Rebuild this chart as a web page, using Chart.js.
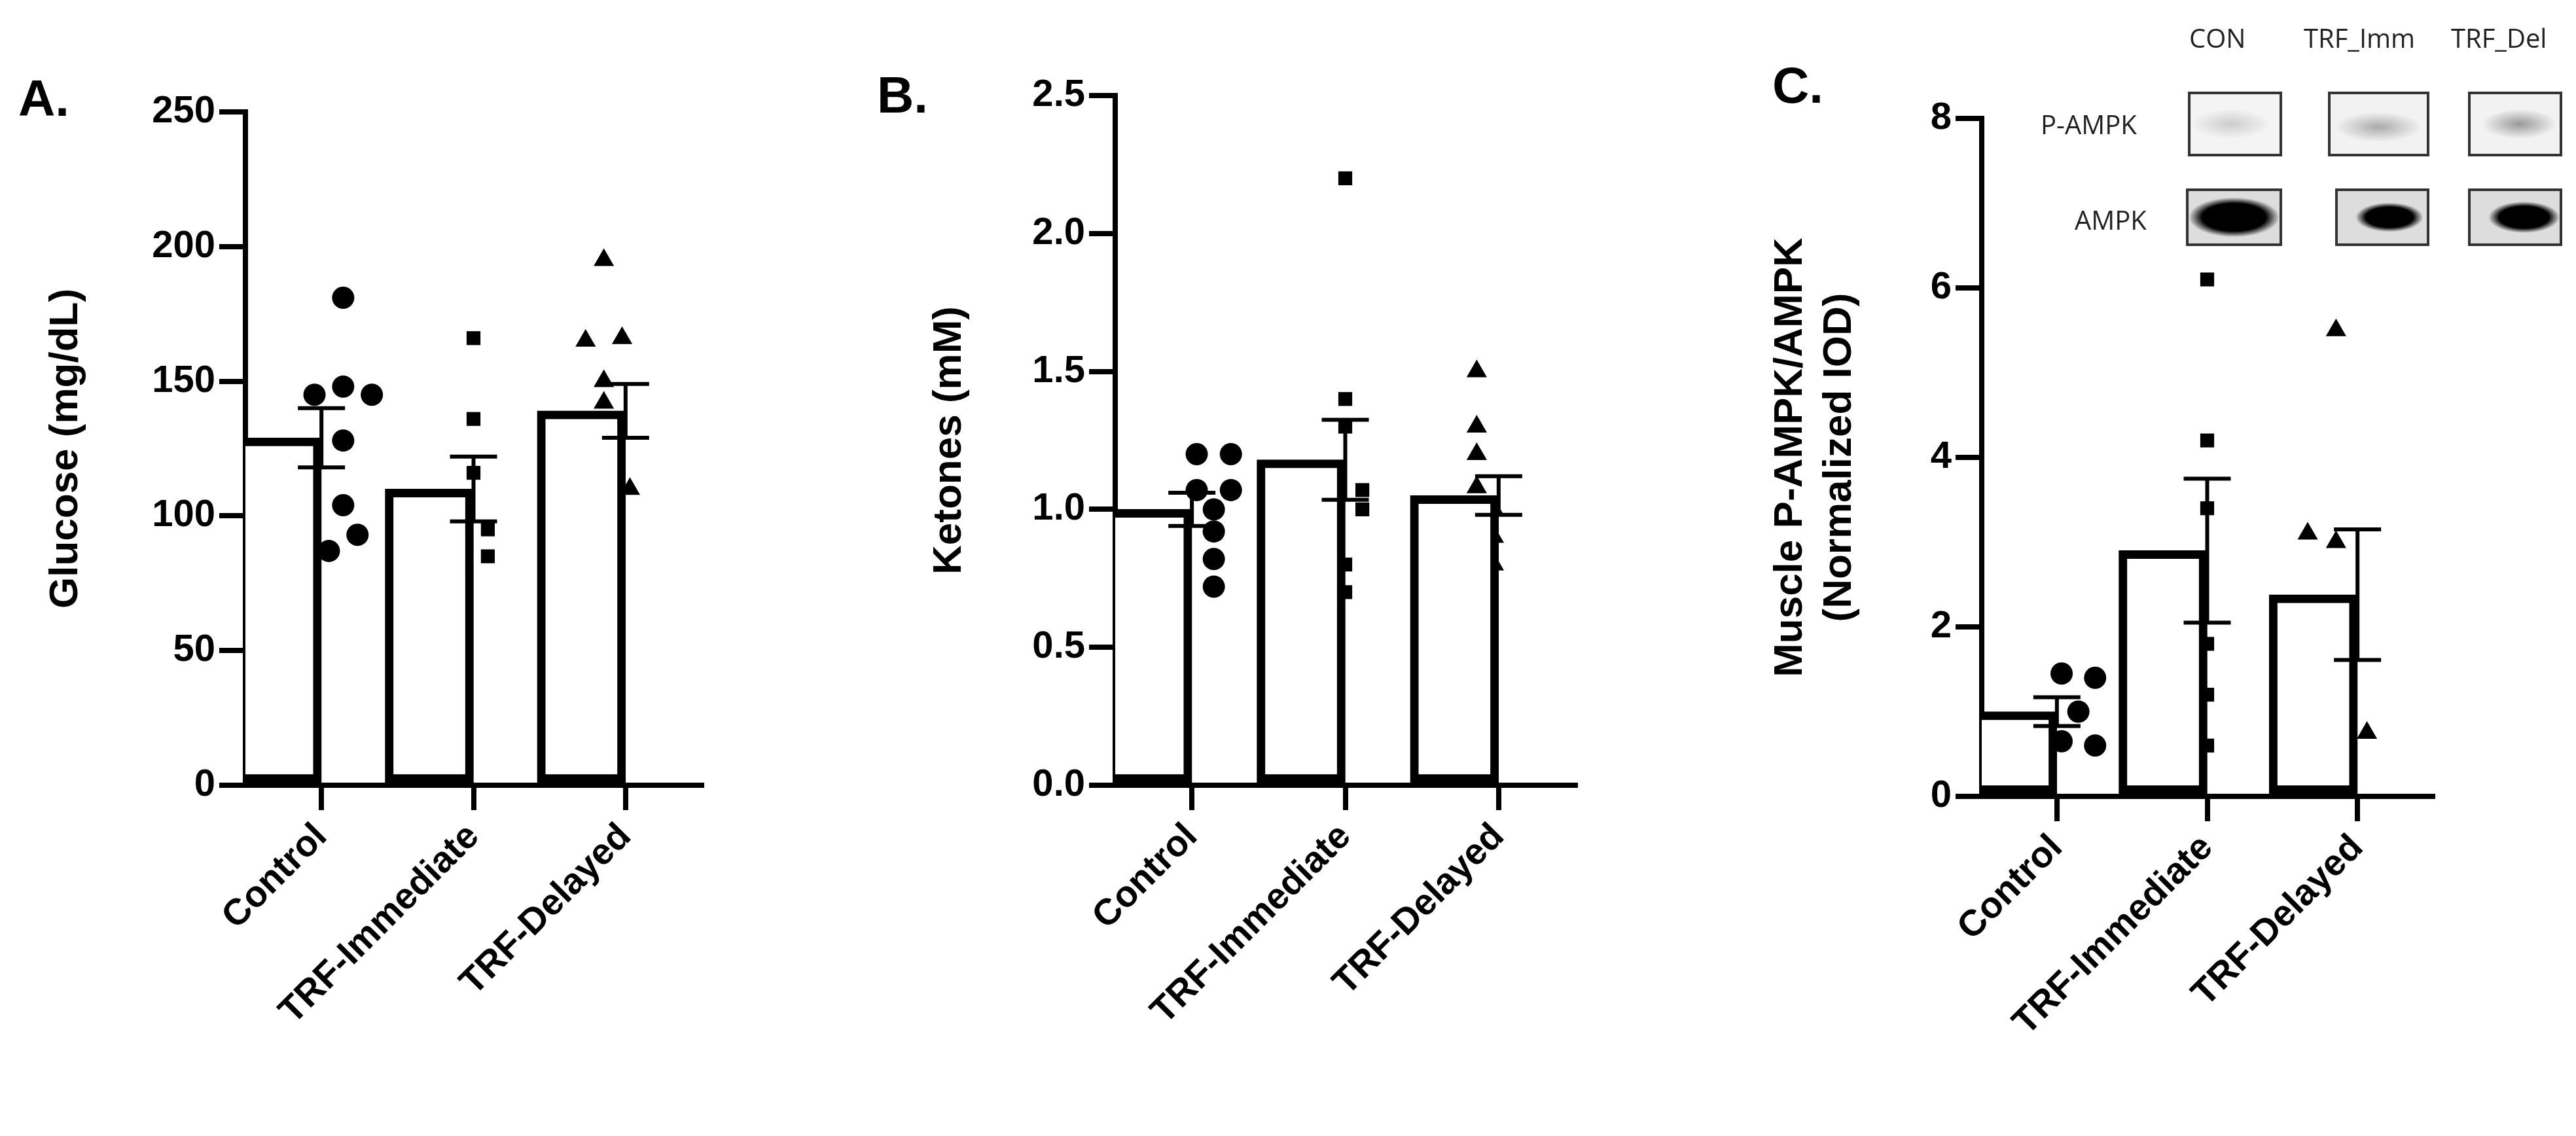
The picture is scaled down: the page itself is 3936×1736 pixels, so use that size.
<!DOCTYPE html>
<html>
<head>
<meta charset="utf-8">
<script src="https://cdn.jsdelivr.net/npm/chart.js@4.4.0/dist/chart.umd.min.js"></script>
<style>
body { margin: 0; background: #fff; width: 3936px; height: 1736px; position: relative; overflow: hidden; font-family: "Liberation Sans", Arial, sans-serif; }
.panel { position: absolute; top: 0; height: 1736px; }
.letter { position: absolute; font-weight: bold; font-size: 78px; }
.blot { position: absolute; border: 4px solid #333; background: #f4f4f4; box-sizing: border-box; }
.lbl { position: absolute; font-family: "Open Sans", sans-serif; font-size: 40px; color: #222; }
</style>
</head>
<body>
<div class="panel" style="left:0;width:1090px"><canvas id="chartA"></canvas></div>
<div class="panel" style="left:1300px;width:1125px"><canvas id="chartB"></canvas></div>
<div class="panel" style="left:2600px;width:1135px"><canvas id="chartC"></canvas></div>
<div class="letter" style="left:28px;top:105px">A.</div>
<div class="letter" style="left:1340px;top:100px">B.</div>
<div class="letter" style="left:2708px;top:85px">C.</div>

<div class="lbl" style="left:3345px;top:30px">CON</div>
<div class="lbl" style="left:3520px;top:30px">TRF_Imm</div>
<div class="lbl" style="left:3745px;top:30px">TRF_Del</div>
<div class="lbl" style="left:3118px;top:162px">P-AMPK</div>
<div class="lbl" style="left:3170px;top:308px">AMPK</div>
<div class="blot" style="left:3343px;top:140px;width:144px;height:99px;background:radial-gradient(ellipse 45% 25% at 45% 50%, #ccc, #f4f4f4)"></div>
<div class="blot" style="left:3557px;top:140px;width:155px;height:99px;background:radial-gradient(ellipse 45% 25% at 50% 55%, #aaa, #f2f2f2)"></div>
<div class="blot" style="left:3771px;top:140px;width:144px;height:99px;background:radial-gradient(ellipse 42% 25% at 55% 50%, #999, #f2f2f2)"></div>
<div class="blot" style="left:3340px;top:288px;width:147px;height:88px;background:radial-gradient(ellipse 50% 38% at 50% 50%, #000 70%, #ddd)"></div>
<div class="blot" style="left:3568px;top:288px;width:144px;height:88px;background:radial-gradient(ellipse 38% 28% at 58% 50%, #000 70%, #ddd)"></div>
<div class="blot" style="left:3771px;top:288px;width:144px;height:88px;background:radial-gradient(ellipse 40% 30% at 60% 50%, #000 70%, #ddd)"></div>

<script>
const groups = ['Control', 'TRF-Immediate', 'TRF-Delayed'];
const markers = ['circle', 'rect', 'triangle'];

// Glucose (mg/dL)
const glucoseMean = [129, 110, 139];
const glucoseSem = [11, 12, 10];
const glucoseControl = [181, 145, 148, 145, 128, 104, 93, 87];
const glucoseImm = [166, 136, 116, 95, 95, 80, 85];
const glucoseDel = [195, 165, 166, 150, 142, 127, 110, 104, 110];

// Ketones (mM)
const ketoneMean = [1.0, 1.18, 1.05];
const ketoneSem = [0.06, 0.145, 0.07];
const ketoneControl = [1.2, 1.2, 1.07, 1.07, 1.0, 0.92, 0.82, 0.72];
const ketoneImm = [2.2, 1.4, 1.3, 1.07, 1.07, 1.0, 1.0, 0.8, 0.7];
const ketoneDel = [1.5, 1.3, 1.2, 1.08, 1.0, 1.0, 0.9, 0.9, 0.8, 0.8];

// Muscle P-AMPK/AMPK
const ampkMean = [1.0, 2.9, 2.38];
const ampkSem = [0.17, 0.85, 0.77];
const ampkControl = [1.45, 1.4, 1.0, 0.6, 0.65];
const ampkImm = [6.1, 4.2, 3.4, 1.8, 1.2, 0.6];
const ampkDel = [5.5, 3.1, 3.0, 1.0, 0.75, 0.75];

// horizontal jitter of the dots (fraction of a category width)
const jitterA = [[0, -0.22, 0, 0.22, 0, 0, 0.11, -0.11], [0, 0, 0, -0.11, 0.11, -0.11, 0.11], [0, -0.14, 0.14, 0, 0, 0, -0.14, -0.26, 0.2]];
const jitterB = [[-0.13, 0.13, -0.13, 0.13, 0, 0, 0, 0], [0, 0, 0, -0.13, 0.13, -0.13, 0.13, 0, 0], [0, 0, 0, 0, -0.13, 0.13, -0.13, 0.13, -0.13, 0.13]];
const jitterC = [[-0.13, 0.13, 0, 0.13, -0.13], [0, 0, 0, 0, 0, 0], [0, -0.22, 0, 0, -0.24, 0.24]];

const errorBars = {
    id: 'errorBars',
    afterDatasetsDraw(chart, args, opts) {
        const ctx = chart.ctx, x = chart.scales.x, y = chart.scales.y;
        ctx.save();
        ctx.strokeStyle = '#000';
        ctx.lineWidth = 6;
        opts.mean.forEach((m, i) => {
            const cx = x.getPixelForValue(i);
            const top = y.getPixelForValue(m + opts.sem[i]);
            const bot = y.getPixelForValue(m - opts.sem[i]);
            ctx.beginPath();
            ctx.moveTo(cx, top); ctx.lineTo(cx, bot);
            ctx.moveTo(cx - 36, top); ctx.lineTo(cx + 36, top);
            ctx.moveTo(cx - 36, bot); ctx.lineTo(cx + 36, bot);
            ctx.stroke();
        });
        ctx.restore();
    }
};

function makeChart(id, cfg) {
    const pts = cfg.points.map((vals, g) => ({
        type: 'scatter',
        xAxisID: 'xp',
        data: vals.map((v, k) => ({ x: g + cfg.jitter[g][k], y: v })),
        pointStyle: markers[g],
        pointRadius: g === 0 ? 17 : (g === 1 ? 15 : 18),
        backgroundColor: '#000',
        borderColor: '#000',
        borderWidth: 0
    }));
    new Chart(document.getElementById(id), {
        type: 'bar',
        data: {
            labels: groups,
            datasets: [{
                type: 'bar',
                xAxisID: 'x',
                data: cfg.mean,
                backgroundColor: '#fff',
                borderColor: '#000',
                borderWidth: 13,
                barThickness: 135,
                borderSkipped: false
            }, ...pts]
        },
        options: {
            responsive: true,
            maintainAspectRatio: false,
            animation: false,
            layout: { padding: { top: cfg.top, right: 10, bottom: 0, left: cfg.pl } },
            plugins: { legend: { display: false }, tooltip: { enabled: false }, errorBars: { mean: cfg.mean, sem: cfg.sem } },
            scales: {
                x: {
                    type: 'category',
                    offset: true,
                    grid: { drawOnChartArea: false, drawTicks: true, tickLength: 38, lineWidth: 8, color: '#000', offset: false },
                    border: { width: 8, color: '#000' },
                    ticks: { color: '#000', font: { family: 'Liberation Sans', weight: 'bold', size: 56 }, minRotation: 45, maxRotation: 45, padding: 8 },
                    afterFit(s) { s.height = cfg.xh; }
                },
                xp: { type: 'linear', display: false, min: -0.5, max: 2.5 },
                y: {
                    min: 0, max: cfg.max,
                    grid: { drawOnChartArea: false, drawTicks: true, tickLength: 40, lineWidth: 8, color: '#000' },
                    border: { width: 8, color: '#000' },
                    ticks: { stepSize: cfg.step, color: '#000', font: { family: 'Liberation Sans', weight: 'bold', size: 58 }, padding: 6,
                        callback: v => cfg.fmt(v) },
                    title: { display: true, text: cfg.title, color: '#000', font: { family: 'Liberation Sans', weight: 'bold', size: 62 }, padding: { bottom: 10 } },
                    afterFit(s) { s.width = cfg.yw; }
                }
            }
        },
        plugins: [errorBars]
    });
}

makeChart('chartA', { mean: glucoseMean, sem: glucoseSem, points: [glucoseControl, glucoseImm, glucoseDel], jitter: jitterA,
    max: 250, step: 50, fmt: v => v, title: 'Glucose (mg/dL)', pl: 60, yw: 315, top: 171, xh: 536 });
makeChart('chartB', { mean: ketoneMean, sem: ketoneSem, points: [ketoneControl, ketoneImm, ketoneDel], jitter: jitterB,
    max: 2.5, step: 0.5, fmt: v => v.toFixed(1), title: 'Ketones (mM)', pl: 110, yw: 294, top: 146, xh: 536 });
makeChart('chartC', { mean: ampkMean, sem: ampkSem, points: [ampkControl, ampkImm, ampkDel], jitter: jitterC,
    max: 8, step: 2, fmt: v => v, title: ['Muscle P-AMPK/AMPK', '(Normalized IOD)'], pl: 95, yw: 333, top: 181, xh: 519 });
</script>
</body>
</html>
